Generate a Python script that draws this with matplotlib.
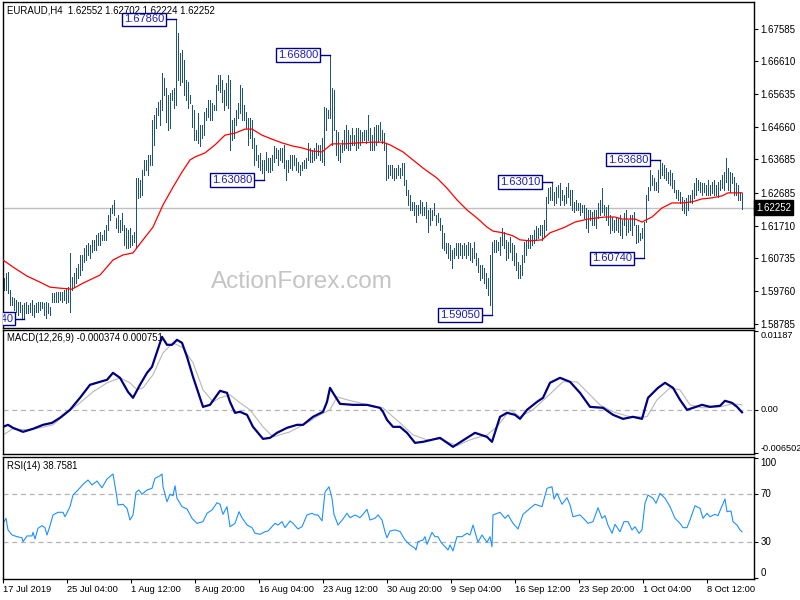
"""
EURAUD H4 bar chart with 55 SMA, MACD(12,26,9) and RSI(14) panels,
in the MetaTrader style of the ActionForex reports.
"""

import matplotlib

matplotlib.use("Agg")
import matplotlib.pyplot as plt
import matplotlib.transforms as mtransforms
import numpy as np

plt.rcParams["font.family"] = ["Liberation Sans", "DejaVu Sans"]

# ---- price bars, in pips above 1.5000 ----
highs = [
    1015, 1030, 1033, 980, 959, 956, 950, 944, 944, 935,
    941, 944, 935, 941, 950, 935, 941, 944, 944, 944,
    941, 944, 941, 929, 971, 971, 974, 974, 974, 974,
    980, 985, 988, 1090, 1018, 1030, 1045, 1057, 1084, 1084,
    1105, 1114, 1120, 1114, 1129, 1129, 1144, 1150, 1153, 1144,
    1158, 1173, 1203, 1224, 1233, 1248, 1194, 1203, 1188, 1209,
    1173, 1164, 1158, 1164, 1144, 1153, 1313, 1313, 1307, 1337,
    1367, 1367, 1382, 1382, 1486, 1501, 1522, 1540, 1546, 1626,
    1611, 1581, 1561, 1567, 1576, 1581, 1786, 1745, 1686, 1695,
    1665, 1605, 1599, 1561, 1531, 1516, 1455, 1507, 1471, 1471,
    1510, 1522, 1546, 1546, 1537, 1531, 1590, 1620, 1620, 1605,
    1576, 1596, 1620, 1605, 1486, 1492, 1516, 1537, 1590, 1581,
    1531, 1510, 1492, 1492, 1486, 1433, 1412, 1382, 1388, 1367,
    1367, 1391, 1373, 1373, 1382, 1409, 1403, 1396, 1403, 1403,
    1412, 1367, 1367, 1382, 1382, 1382, 1373, 1361, 1352, 1361,
    1367, 1373, 1418, 1403, 1396, 1403, 1418, 1412, 1412, 1433,
    1525, 1522, 1516, 1680, 1581, 1576, 1455, 1450, 1412, 1427,
    1455, 1471, 1455, 1441, 1462, 1441, 1462, 1462, 1455, 1450,
    1455, 1455, 1501, 1462, 1441, 1465, 1471, 1471, 1480, 1455,
    1447, 1418, 1352, 1352, 1352, 1343, 1343, 1352, 1343, 1358,
    1358, 1307, 1278, 1263, 1242, 1242, 1233, 1233, 1248, 1242,
    1227, 1242, 1218, 1224, 1218, 1239, 1203, 1209, 1194, 1173,
    1150, 1120, 1120, 1114, 1099, 1105, 1120, 1120, 1120, 1114,
    1120, 1114, 1123, 1120, 1105, 1123, 1090, 1075, 1054, 1054,
    1045, 1030, 1015, 1084, 1123, 1129, 1129, 1123, 1138, 1164,
    1153, 1129, 1123, 1138, 1120, 1114, 1090, 1063, 1054, 1084,
    1123, 1129, 1135, 1144, 1144, 1158, 1170, 1164, 1173, 1173,
    1188, 1257, 1283, 1286, 1301, 1272, 1286, 1292, 1298, 1278,
    1263, 1286, 1298, 1278, 1278, 1242, 1248, 1239, 1239, 1233,
    1233, 1224, 1218, 1218, 1212, 1218, 1218, 1239, 1248, 1283,
    1233, 1227, 1233, 1203, 1197, 1188, 1194, 1194, 1203, 1188,
    1209, 1218, 1188, 1203, 1203, 1212, 1173, 1173, 1150, 1164,
    1182, 1263, 1286, 1337, 1322, 1313, 1301, 1337, 1368, 1358,
    1352, 1343, 1331, 1337, 1328, 1307, 1278, 1278, 1272, 1257,
    1248, 1254, 1263, 1263, 1278, 1298, 1313, 1307, 1301, 1298,
    1298, 1292, 1307, 1292, 1301, 1307, 1292, 1301, 1307, 1322,
    1331, 1373, 1343, 1331, 1328, 1316, 1298, 1292, 1272, 1270,
]
lows = [
    980, 980, 971, 935, 935, 920, 914, 905, 914, 896,
    894, 911, 911, 914, 905, 899, 914, 914, 920, 926,
    905, 896, 911, 905, 944, 944, 944, 944, 950, 944,
    950, 941, 944, 914, 980, 988, 1000, 1015, 1024, 1039,
    1063, 1069, 1084, 1075, 1093, 1099, 1099, 1114, 1114, 1129,
    1129, 1129, 1158, 1188, 1209, 1203, 1164, 1153, 1153, 1158,
    1114, 1105, 1105, 1108, 1114, 1123, 1108, 1254, 1257, 1263,
    1322, 1337, 1322, 1352, 1352, 1412, 1462, 1501, 1471, 1516,
    1561, 1480, 1455, 1462, 1546, 1522, 1531, 1605, 1590, 1599,
    1561, 1546, 1522, 1537, 1465, 1427, 1427, 1418, 1409, 1433,
    1441, 1486, 1495, 1486, 1486, 1516, 1516, 1576, 1570, 1540,
    1516, 1531, 1522, 1396, 1427, 1433, 1471, 1492, 1507, 1486,
    1486, 1462, 1412, 1433, 1403, 1352, 1367, 1346, 1337, 1328,
    1308, 1337, 1331, 1331, 1337, 1361, 1373, 1352, 1367, 1361,
    1343, 1307, 1331, 1343, 1337, 1352, 1337, 1331, 1322, 1337,
    1343, 1343, 1367, 1361, 1361, 1367, 1373, 1382, 1367, 1361,
    1352, 1455, 1492, 1492, 1412, 1455, 1382, 1367, 1361, 1391,
    1396, 1403, 1396, 1396, 1412, 1412, 1396, 1403, 1412, 1420,
    1427, 1418, 1427, 1396, 1396, 1396, 1412, 1420, 1427, 1418,
    1396, 1307, 1313, 1322, 1313, 1307, 1313, 1322, 1313, 1322,
    1292, 1263, 1233, 1218, 1218, 1203, 1182, 1203, 1209, 1203,
    1203, 1194, 1153, 1173, 1188, 1203, 1173, 1182, 1158, 1105,
    1099, 1090, 1075, 1069, 1045, 1075, 1084, 1075, 1084, 1075,
    1084, 1075, 1084, 1069, 1063, 1075, 1054, 1033, 1009, 1015,
    1000, 985, 965, 935, 905, 1093, 1093, 1099, 1084, 1114,
    1105, 1069, 1075, 1093, 1069, 1054, 1039, 1015, 1015, 1024,
    1063, 1084, 1105, 1105, 1114, 1120, 1129, 1135, 1144, 1129,
    1138, 1158, 1239, 1248, 1248, 1233, 1239, 1257, 1233, 1248,
    1233, 1239, 1257, 1233, 1218, 1212, 1218, 1218, 1203, 1212,
    1194, 1164, 1153, 1188, 1173, 1173, 1164, 1194, 1203, 1212,
    1203, 1188, 1173, 1150, 1158, 1153, 1158, 1153, 1144, 1135,
    1173, 1144, 1153, 1158, 1144, 1173, 1120, 1123, 1129, 1135,
    1074, 1182, 1248, 1278, 1292, 1278, 1278, 1272, 1313, 1322,
    1313, 1307, 1298, 1292, 1283, 1272, 1254, 1248, 1239, 1218,
    1209, 1203, 1218, 1242, 1239, 1254, 1263, 1278, 1272, 1263,
    1272, 1263, 1263, 1263, 1269, 1263, 1263, 1257, 1278, 1283,
    1278, 1301, 1278, 1272, 1298, 1263, 1263, 1248, 1248, 1222,
]

# ---- moving average (bar index, pips) ----
ma_idx = [-0.5, 4.5, 11.5, 18, 23, 28, 34, 39.5, 48, 54.5, 59.5, 64.5, 69.5,
          74.5, 79.5, 84.5, 89, 93, 95.5, 100.5, 105.5, 110.5, 115.5, 120.5,
          124, 129, 134, 139, 144, 149, 154, 159, 164, 170.5, 177, 184, 189.5,
          193, 199.5, 204.5, 209.5, 216.5, 221.5, 226.5, 231.5, 236.5, 241.5,
          244.5, 249.5, 254.5, 258, 263, 269, 273, 278, 280.5, 285.5, 292,
          300.5, 305.5, 309, 315.5, 319, 324, 329, 334, 339, 344, 349, 354,
          359, 362, 367, 369]
ma_val = [1069, 1048, 1021, 1003, 988, 985, 982, 1000, 1024, 1069, 1084, 1090,
          1129, 1167, 1233, 1286, 1331, 1367, 1376, 1388, 1412, 1441, 1447,
          1459, 1459, 1441, 1429, 1418, 1409, 1403, 1394, 1391, 1415, 1415,
          1418, 1420, 1420, 1412, 1391, 1367, 1343, 1313, 1283, 1248, 1218,
          1194, 1167, 1155, 1150, 1141, 1129, 1126, 1129, 1150, 1161, 1167,
          1182, 1191, 1197, 1197, 1191, 1191, 1182, 1197, 1224, 1239, 1239,
          1242, 1251, 1254, 1260, 1269, 1269, 1269]

# ---- MACD main line (bar index, 1e-4) ----
macd_idx = [-0.5, 2, 4.5, 9.5, 14.5, 19.5, 24, 28, 33, 38, 43, 48, 51.5, 54.5,
            58, 62, 64.5, 68, 71.5, 74, 76.5, 79, 81.5, 84, 86.5, 89, 91.5,
            94.5, 98, 99.5, 103, 105.5, 108, 111.5, 113, 115.5, 118, 121.5,
            124.5, 127, 129.5, 133, 136.5, 141.5, 146.5, 149.5, 154.5, 159.5,
            161.5, 163, 164.5, 168, 174.5, 181.5, 188, 189.5, 191.5, 194.5,
            198, 201.5, 205.5, 209.5, 218, 224.5, 231.5, 235.5, 241.5, 244,
            248, 251.5, 255.5, 258, 261.5, 266.5, 269.5, 273, 278, 283, 288,
            293, 299.5, 304.5, 309.5, 314.5, 319, 322, 327, 330.5, 334.5, 338,
            341.5, 344.5, 349, 353, 358, 360.5, 364, 366.5, 369]
macd_val = [-25.6, -22.6, -27.1, -33.1, -28.6, -22.6, -19.6, -12.0, 0.0, 18.1,
            37.7, 42.2, 45.2, 55.7, 48.2, 27.1, 18.1, 37.7, 55.7, 64.8, 87.3,
            109.9, 97.9, 97.9, 105.4, 100.9, 79.8, 49.7, 18.1, 4.5, 7.5, 18.1,
            28.6, 25.6, 12.0, -4.5, -3.0, -7.5, -25.6, -34.6, -43.7, -42.2,
            -34.6, -27.1, -22.6, -22.6, -10.5, -3.0, 12.0, 33.1, 25.6, 9.0,
            7.5, 7.5, 3.0, -3.0, -15.1, -25.6, -25.6, -34.6, -49.7, -48.2,
            -42.2, -55.7, -42.2, -34.6, -40.7, -48.2, -10.5, -4.5, -7.5,
            -13.6, 0.0, 12.0, 18.1, 40.7, 48.2, 42.2, 25.6, 4.5, 3.0, -7.5,
            -13.6, -10.5, -13.6, 18.1, 33.1, 40.7, 33.1, 15.1, 0.0, 3.0, 7.5,
            4.5, 6.0, 13.6, 10.5, 4.5, -3.7]

# ---- MACD signal line (bar index, 1e-4) ----
sig_idx = [-0.5, 4.5, 11.5, 18, 24.5, 31.5, 38, 44.5, 51.5, 58, 63, 66.5,
           69.5, 74.5, 79.5, 84.5, 89.5, 94.5, 99.5, 104.5, 108, 113, 118, 123,
           129.5, 134.5, 143, 151.5, 158, 163, 166.5, 171.5, 178, 184.5,
           189.5, 194.5, 198, 204.5, 211.5, 218, 226.5, 233, 241.5, 246.5,
           253, 258, 264.5, 271.5, 279.5, 286.5, 293, 298, 304.5, 313, 321.5,
           326.5, 333, 338, 343, 349.5, 358, 364.5, 369]
sig_val = [-37.7, -28.6, -30.1, -27.1, -22.6, -4.5, 10.5, 27.1, 40.7, 48.2,
           40.7, 30.1, 33.1, 52.7, 85.8, 100.9, 93.4, 70.8, 30.1, 12.0, 18.1,
           22.6, 10.5, 0.0, -25.6, -40.7, -33.1, -19.6, -7.5, 0.0, 19.6, 15.1,
           10.5, 4.5, 3.0, -10.5, -19.6, -37.7, -45.2, -43.7, -54.2, -45.2,
           -37.7, -25.6, 0.0, -10.5, 0.0, 19.6, 42.2, 42.2, 22.6, 7.5, -3.0,
           -10.5, -10.5, 15.1, 33.1, 30.1, 7.5, 3.0, 4.5, 9.0, 7.5]

# ---- RSI(14) (bar index, value) ----
rsi_idx = [-0.5, 1, 2, 4, 6.5, 9, 9.5, 11.5, 14, 14.5, 15.5, 17, 19, 20.5,
           21.5, 23, 24.5, 27, 29.5, 30.5, 33, 34.5, 37, 39.5, 42, 44, 46.5,
           49, 51.5, 54.5, 56, 57, 59.5, 61.5, 63, 64.5, 66, 67.5, 69, 71.5,
           74, 75.5, 78, 79, 79.5, 81.5, 83, 84.5, 85.5, 86.5, 89, 91.5, 94,
           96.5, 99.5, 101.5, 104, 106.5, 108, 109.5, 111.5, 113, 115.5,
           117.5, 119, 121.5, 124, 125.5, 128, 130.5, 132, 134, 135.5, 137,
           139, 140.5, 143, 144.5, 147, 149, 151.5, 154, 155.5, 157, 159,
           160.5, 162.5, 164, 165, 167, 169.5, 171.5, 173, 175.5, 178, 179.5,
           181.5, 183, 185.5, 187, 189, 190.5, 191.5, 193, 195.5, 198, 200.5,
           203, 205.5, 206, 207, 209.5, 210.5, 211.5, 214, 215.5, 217, 218.5,
           220.5, 222, 223, 224.5, 226.5, 229, 231.5, 233, 234.5, 237, 239,
           241.5, 243, 244, 244.5, 248, 250.5, 252, 254.5, 257, 259.5, 263,
           265.5, 269, 271.5, 274, 275, 276.5, 279, 281.5, 283, 284.5, 288,
           290.5, 292, 294.5, 297, 299, 300.5, 302, 304, 305.5, 308, 310, 312,
           314, 315.5, 317.5, 319, 320.5, 322, 324.5, 326, 328, 330.5, 333,
           335.5, 338, 339.5, 341.5, 343, 345.5, 348, 349.5, 351.5, 353,
           355.5, 357, 358.5, 360.5, 361.5, 363.5, 364.5, 366.5, 368, 369]
rsi_val = [45.8, 50.0, 40.3, 36.1, 34.7, 33.8, 30.5, 35.3, 35.3, 38.3, 32.8,
           41.7, 43.8, 42.2, 36.1, 43.8, 52.8, 55.0, 55.0, 51.3, 59.7, 69.4,
           73.6, 78.3, 81.9, 77.8, 81.1, 75.5, 82.8, 86.9, 72.2, 61.1, 61.7,
           58.3, 48.6, 52.8, 71.7, 73.6, 70.0, 73.6, 75.0, 83.3, 85.5, 86.9,
           76.3, 63.8, 70.0, 68.8, 77.2, 66.7, 59.7, 57.8, 50.0, 45.8, 47.2,
           54.2, 56.9, 63.0, 61.7, 53.3, 59.7, 43.0, 45.8, 55.5, 50.5, 44.4,
           42.2, 37.5, 36.7, 38.8, 39.4, 43.0, 45.8, 44.4, 47.2, 42.2, 47.8,
           45.8, 41.1, 43.0, 52.8, 54.2, 52.8, 52.8, 47.8, 71.7, 76.3, 66.7,
           53.3, 44.4, 49.4, 54.2, 50.5, 52.8, 50.5, 53.3, 57.5, 48.6, 50.0,
           52.8, 48.6, 38.8, 33.8, 39.4, 40.3, 39.0, 31.9, 27.8, 25.0, 23.6,
           30.5, 31.9, 34.7, 28.3, 38.3, 34.7, 34.7, 30.0, 26.3, 23.6, 27.8,
           22.8, 34.7, 34.7, 37.5, 36.1, 44.4, 30.0, 36.1, 30.0, 34.7, 26.3,
           52.8, 55.0, 50.0, 52.8, 45.8, 41.1, 53.3, 58.3, 61.7, 59.7, 75.0,
           76.3, 66.1, 70.8, 61.7, 67.2, 61.1, 51.3, 52.8, 48.6, 45.8, 47.2,
           58.8, 50.0, 52.2, 44.4, 37.5, 45.0, 38.8, 47.2, 47.2, 40.3, 43.0,
           37.5, 40.3, 62.5, 69.4, 66.7, 62.5, 70.8, 66.7, 59.7, 50.0, 45.8,
           42.2, 42.2, 48.6, 60.5, 58.3, 50.0, 54.2, 51.3, 53.3, 52.2, 58.3,
           66.1, 55.5, 56.1, 47.2, 44.4, 40.3, 38.8]

# ---- swing labels: bar index, price, text ----
swing_idx = [86, 163, 130, 244, 274, 328, 320, 10]
swing_price = [1.6786, 1.6680, 1.6308, 1.5905, 1.6301, 1.6368, 1.6074, 1.5894]
swing_text = ["1.67860", "1.66800", "1.63080", "1.59050", "1.63010",
              "1.63680", "1.60740", "1.58940"]

last_price = 1.62252
price_ticks = [1.67585, 1.66610, 1.65635, 1.64660, 1.63685, 1.62685,
               1.61710, 1.60735, 1.59760, 1.58785]
date_labels = ["17 Jul 2019", "25 Jul 04:00", "1 Aug 12:00", "8 Aug 20:00",
               "16 Aug 04:00", "23 Aug 12:00", "30 Aug 20:00", "9 Sep 04:00",
               "16 Sep 12:00", "23 Sep 20:00", "1 Oct 04:00", "8 Oct 12:00"]

BAR = "#1f5374"
NAVY = "#000080"
FS = 7.0


def style_panel(ax, size=FS):
    for sp in ax.spines.values():
        sp.set_color("black")
        sp.set_linewidth(1.0)
    ax.set_xlim(-0.5, 375)
    ax.yaxis.tick_right()
    ax.tick_params(axis="y", length=3, width=0.8, pad=1.5, labelsize=size,
                   colors="black")
    ax.tick_params(axis="x", bottom=False, labelbottom=False)


fig = plt.figure(figsize=(8, 6), dpi=100)
ax1 = fig.add_axes([0.00375, 0.45333, 0.93875, 0.54333])
ax2 = fig.add_axes([0.00375, 0.24333, 0.93875, 0.20667])
ax3 = fig.add_axes([0.00375, 0.035, 0.93875, 0.20333])

# main price panel
bar_idx = np.arange(len(highs))
hi = 1.5 + np.asarray(highs) / 10000
lo = 1.5 + np.asarray(lows) / 10000
ax1.text(0.398, 0.141, "ActionForex.com", transform=ax1.transAxes,
         ha="center", va="center", fontsize=17.5, color="#c4c4c4", zorder=0)
ax1.axhline(last_price, color="#c0c0c0", lw=1.0, zorder=1)
ax1.vlines(bar_idx, lo, hi, color=BAR, lw=0.5, antialiased=False, zorder=2)
ax1.plot(ma_idx, 1.5 + np.asarray(ma_val) / 10000, color="red", lw=0.9,
         zorder=3)
for i, p, t in zip(swing_idx, swing_price, swing_text):
    off = 4.5 if i == 10 else 5.2
    ax1.plot([i - off, i], [p, p], color=NAVY, lw=1.0, zorder=4)
    ax1.text(i - off - 0.8, p, t, ha="right", va="center", fontsize=8,
             color="#2020b0", clip_on=True, zorder=5,
             bbox=dict(boxstyle="square,pad=0.16", fc="white", ec=NAVY,
                       lw=1.0))
ax1.set_ylim(1.58663, 1.68377)
style_panel(ax1)
ax1.set_yticks(price_ticks)
ax1.set_yticklabels([f"{v:.5f}" for v in price_ticks])
ax1.text(0.005, 0.974, "EURAUD,H4  1.62552 1.62702 1.62224 1.62252",
         transform=ax1.transAxes, ha="left", va="center", fontsize=6.9)
trans = mtransforms.blended_transform_factory(ax1.transAxes, ax1.transData)
ax1.text(1.003, last_price, "1.62252", transform=trans, ha="left",
         va="center", fontsize=FS, color="white", clip_on=False,
         bbox=dict(boxstyle="square,pad=0.22", fc="black", ec="black"))

# MACD panel
ax2.axhline(0, color="#b4b4b4", lw=0.9, ls=(0, (4, 3)))
ax2.plot(sig_idx, np.asarray(sig_val) / 10000, color="#b8b8b8", lw=0.8)
ax2.plot(macd_idx, np.asarray(macd_val) / 10000, color=NAVY, lw=1.6)
ax2.set_ylim(-0.00665, 0.01202)
style_panel(ax2, size=6.6)
ax2.set_yticks([0.01187, 0.0, -0.006502])
ax2.set_yticklabels(["0.01187", "0.00", "-0.006502"])
for lbl, va in zip(ax2.get_yticklabels(), ["top", "center", "bottom"]):
    lbl.set_va(va)
ax2.text(0.005, 0.935, "MACD(12,26,9) -0.000374 0.000751",
         transform=ax2.transAxes, ha="left", va="center", fontsize=6.9)

# RSI panel
for lvl in (70, 30):
    ax3.axhline(lvl, color="#b4b4b4", lw=0.9, ls=(0, (4, 3)))
ax3.plot(rsi_idx, rsi_val, color="#1e90ff", lw=0.8)
ax3.set_ylim(-0.6, 101.1)
style_panel(ax3)
ax3.set_yticks([100, 70, 30, 0])
ax3.set_yticklabels(["100", "70", "30", "0"])
for lbl, va in zip(ax3.get_yticklabels(), ["top", "center", "center",
                                           "bottom"]):
    lbl.set_va(va)
ax3.set_xticks([-0.5 + 32 * k for k in range(len(date_labels))])
ax3.set_xticklabels(date_labels, ha="left")
ax3.tick_params(axis="x", bottom=True, labelbottom=True, length=3,
                width=0.8, pad=1.5, labelsize=6.7)
ax3.text(0.005, 0.926, "RSI(14) 38.7581", transform=ax3.transAxes,
         ha="left", va="center", fontsize=6.9)

fig.savefig("out.png", dpi=100, facecolor="white")
